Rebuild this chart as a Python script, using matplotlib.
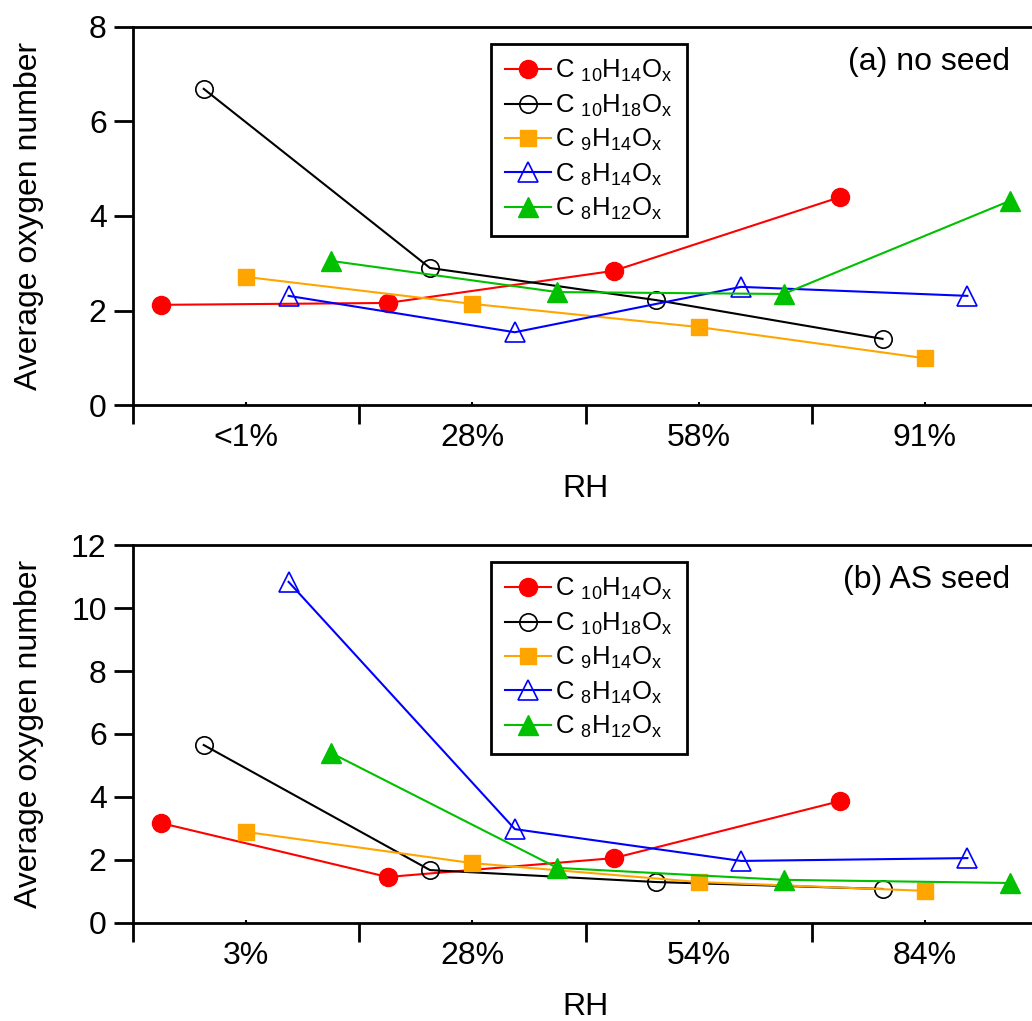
import matplotlib
matplotlib.use("Agg")
from matplotlib import pyplot as plt
import numpy as np

plt.rcParams['font.family'] = ['Liberation Sans', 'DejaVu Sans']
plt.rcParams['mathtext.fontset'] = 'custom'
plt.rcParams['mathtext.rm'] = 'Liberation Sans'
plt.rcParams['mathtext.it'] = 'Liberation Sans'
plt.rcParams['mathtext.default'] = 'regular'

# series labels
labels = [r"C $_{10}$H$_{14}$O$_{x}$",
          r"C $_{10}$H$_{18}$O$_{x}$",
          r"C $_{9}$H$_{14}$O$_{x}$",
          r"C $_{8}$H$_{14}$O$_{x}$",
          r"C $_{8}$H$_{12}$O$_{x}$"]

# (a) no seed
rh_a = ['<1%', '28%', '58%', '91%']
c10h14_a = [2.12, 2.16, 2.84, 4.40]
c10h18_a = [6.69, 2.90, 2.22, 1.40]
c9h14_a = [2.71, 2.14, 1.65, 0.99]
c8h14_a = [2.31, 1.54, 2.50, 2.31]
c8h12_a = [3.05, 2.39, 2.35, 4.32]

# (b) AS seed
rh_b = ['3%', '28%', '54%', '84%']
c10h14_b = [3.17, 1.46, 2.06, 3.87]
c10h18_b = [5.65, 1.68, 1.30, 1.08]
c9h14_b = [2.89, 1.90, 1.30, 1.02]
c8h14_b = [10.83, 2.98, 1.97, 2.06]
c8h12_b = [5.40, 1.75, 1.37, 1.27]

styles = [dict(color='#ff0000', marker='o', mfc='#ff0000', mec='#ff0000'),
          dict(color='black', marker='o', mfc='none', mec='black', mew=1.2),
          dict(color='#ffa500', marker='s', mfc='#ffa500', mec='#ffa500'),
          dict(color='#0000ff', marker='^', mfc='none', mec='#0000ff', mew=1.2),
          dict(color='#00c000', marker='^', mfc='#00c000', mec='#00c000')]
sizes = [13, 12.5, 12, 14, 14]
offsets = [-0.375, -0.1875, 0.0, 0.1875, 0.375]
FS = 23


def panel(ax, rh, series, ymax, yticks, tag):
    x = np.arange(len(rh))
    for s, st, ms, off, lab in zip(series, styles, sizes, offsets, labels):
        ax.plot(x + off, s, lw=1.5, ms=ms, label=lab, clip_on=False, **st)
    ax.set_xlim(-0.5, len(rh) - 0.5)
    ax.set_ylim(0, ymax)
    ax.set_yticks(yticks)
    # group boundaries get the ticks, group centres get the labels
    ax.set_xticks(np.arange(len(rh) + 1) - 0.5)
    ax.set_xticklabels([])
    ax.set_xticks(x, minor=True)
    ax.set_xticklabels(rh, minor=True)
    ax.tick_params(axis='x', which='major', direction='out', length=14, width=2)
    ax.tick_params(axis='x', which='minor', direction='in', length=2, width=1.5,
                   pad=13, labelsize=FS)
    ax.tick_params(axis='y', direction='out', length=14, width=2, labelsize=FS, pad=5)
    for sp in ax.spines.values():
        sp.set_linewidth(2)
    ax.set_xlabel('RH', fontsize=FS, labelpad=15)
    ax.set_ylabel('Average oxygen number', fontsize=FS)
    ax.yaxis.set_label_coords(-0.098, 0.5)
    ax.text(0.969, 0.907, tag, transform=ax.transAxes, ha='right', va='center', fontsize=FS)
    leg = ax.legend(loc='upper left', bbox_to_anchor=(0.3956, 0.955), fontsize=18.5,
                    frameon=True, fancybox=False, edgecolor='black', framealpha=1,
                    handlelength=1.8, handletextpad=0.15, labelspacing=0.32,
                    borderpad=0.55, borderaxespad=0)
    leg.get_frame().set_linewidth(2)


fig = plt.figure(figsize=(10.32, 10.21), dpi=100)
ax1 = fig.add_axes([0.1289, 0.6033, 0.877, 0.3703])
ax2 = fig.add_axes([0.1289, 0.0960, 0.877, 0.3702])

panel(ax1, rh_a, [c10h14_a, c10h18_a, c9h14_a, c8h14_a, c8h12_a], 8, [0, 2, 4, 6, 8], '(a) no seed')
panel(ax2, rh_b, [c10h14_b, c10h18_b, c9h14_b, c8h14_b, c8h12_b], 12, [0, 2, 4, 6, 8, 10, 12], '(b) AS seed')

fig.savefig('out.png', dpi=100)
